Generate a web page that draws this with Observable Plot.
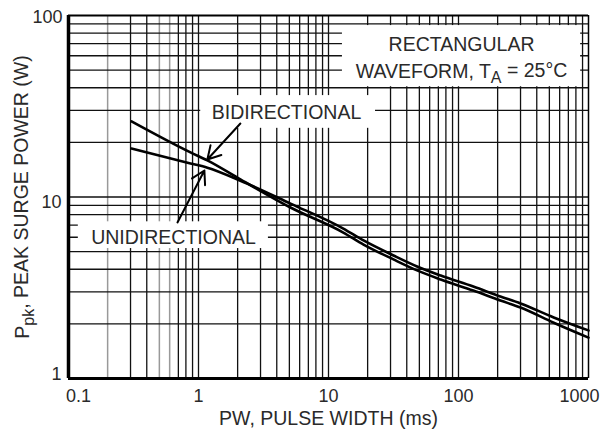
<!DOCTYPE html>
<html><head><meta charset="utf-8">
<script src="https://cdn.jsdelivr.net/npm/d3@7"></script>
<script src="https://cdn.jsdelivr.net/npm/@observablehq/plot@0.6"></script>
<style>body{margin:0;background:#fff;} svg{display:block}</style>
</head><body><div id="chart"></div>
<script>
// Data (pulse width in ms, peak surge power in W)
const pulseWidthMs = [0.305, 0.868, 1.17, 2.1, 5.1, 13, 18.6, 31.6, 48, 73, 130, 210, 300, 540, 1000];
const bidirectionalW = [26.1, 17.6, 15.9, 12.5, 8.75, 6.37, 5.47, 4.53, 3.94, 3.51, 3.05, 2.69, 2.46, 2.03, 1.68];
const unidirectionalW = [18.5, 15.3, 14.5, 12.3, 9.2, 6.7, 5.76, 4.76, 4.14, 3.69, 3.21, 2.83, 2.59, 2.17, 1.84];

const xTickLabels = [0.1, 1, 10, 100, 1000];
const yTickLabels = [1, 10, 100];
const xGrid = [0.2,0.3,0.4,0.5,0.6,0.7,0.8,0.9,1,2,3,4,5,6,7,8,9,10,20,30,40,50,60,70,80,90,100,200,300,400,500,600,700,800,900];
const xGridGray = [0.2, 0.5, 0.6];
const yGrid = [2,3,4,5,6,7,8,9,10,20,30,40,50,60,70,80,90];

const labels = ["RECTANGULAR", "WAVEFORM, T_A = 25°C", "BIDIRECTIONAL", "UNIDIRECTIONAL"];
const labelX = [105.5, 105.5, 4.75, 0.642];
const labelY = [69.2, 49.1, 29.2, 5.98];
const boxX1 = [12.8, 1.04, 0.119];
const boxX2 = [870, 23, 3.45];
const boxY1 = [40.5, 23.9, 5.2];
const boxY2 = [88, 36.2, 7.3];
const arrowX1 = [2.1, 0.689];
const arrowY1 = [25.4, 7.24];
const arrowX2 = [1.17, 1.11];
const arrowY2 = [16.1, 14.0];

const series = [
  ...pulseWidthMs.map((x, i) => ({x, y: bidirectionalW[i], s: "BIDIRECTIONAL"})),
  ...pulseWidthMs.map((x, i) => ({x, y: unidirectionalW[i], s: "UNIDIRECTIONAL"}))
];
const labelData = labels.map((t, i) => ({t, x: labelX[i], y: labelY[i]}));
const boxes = boxX1.map((d, i) => ({x1: boxX1[i], x2: boxX2[i], y1: boxY1[i], y2: boxY2[i]}));
const arrows = arrowX1.map((d, i) => ({x1: arrowX1[i], y1: arrowY1[i], x2: arrowX2[i], y2: arrowY2[i]}));
const fmt = d => String(d);
const font = 19.5;

const chart = Plot.plot({
  width: 609, height: 439,
  marginLeft: 68, marginRight: 21, marginTop: 15, marginBottom: 61,
  style: {fontFamily: "'Liberation Sans', Arial, sans-serif", color: "#2a2a2a", background: "#fff"},
  x: {type: "log", domain: [0.1, 1000], axis: null},
  y: {type: "log", domain: [1, 100], axis: null},
  marks: [
    Plot.ruleX(xGrid.filter(d => !xGridGray.includes(d)), {stroke: "#111", strokeWidth: 1.3}),
    Plot.ruleX(xGridGray, {stroke: "#999", strokeWidth: 1.5}),
    Plot.ruleY(yGrid, {stroke: "#111", strokeWidth: 1.3}),
    Plot.rect(boxes, {x1: "x1", x2: "x2", y1: "y1", y2: "y2", fill: "#fff"}),
    Plot.ruleX([0.1], {stroke: "#000", strokeWidth: 3.5}),
    Plot.ruleY([1], {stroke: "#000", strokeWidth: 3}),
    Plot.ruleY([100], {stroke: "#000", strokeWidth: 2}),
    Plot.ruleX([1000], {stroke: "#000", strokeWidth: 1.5}),
    Plot.line(series, {x: "x", y: "y", z: "s", stroke: "#000", strokeWidth: 2.6, curve: "monotone-x"}),
    Plot.arrow(arrows, {x1: "x1", y1: "y1", x2: "x2", y2: "y2", stroke: "#000", strokeWidth: 2, headLength: 11}),
    Plot.text(labelData, {x: "x", y: "y", text: "t", fontSize: font, fill: "#2a2a2a"}),
    Plot.axisX(xTickLabels.slice(1, 4), {tickSize: 0, tickPadding: 11, fontSize: 18, label: null, tickFormat: fmt}),
    Plot.axisX([xTickLabels[0]], {tickSize: 0, tickPadding: 11, fontSize: 18, label: null, tickFormat: fmt, dx: 10}),
    Plot.axisX([xTickLabels[4]], {tickSize: 0, tickPadding: 11, fontSize: 18, label: null, tickFormat: fmt, dx: -9}),
    Plot.axisY([yTickLabels[2]], {tickSize: 0, tickPadding: 6, fontSize: 18, label: null, tickFormat: fmt, dy: 2}),
    Plot.axisY([yTickLabels[1]], {tickSize: 0, tickPadding: 7, fontSize: 18, label: null, tickFormat: fmt, dy: 5}),
    Plot.axisY([yTickLabels[0]], {tickSize: 0, tickPadding: 7, fontSize: 18, label: null, tickFormat: fmt, dy: -4}),
    Plot.text(["PW, PULSE WIDTH (ms)"], {frameAnchor: "bottom", lineAnchor: "middle", textAnchor: "middle", dy: 40, fontSize: font, fill: "#2a2a2a"}),
    Plot.text(["P_pk, PEAK SURGE POWER (W)"], {frameAnchor: "left", lineAnchor: "middle", textAnchor: "middle", dx: -46, rotate: -90, fontSize: font, fill: "#2a2a2a"})
  ]
});
document.getElementById("chart").appendChild(chart);

// subscripts
d3.select(chart).selectAll("text").each(function() {
  const el = d3.select(this);
  const t = this.textContent;
  if (t === "WAVEFORM, T_A = 25°C") {
    el.text(null);
    el.append("tspan").text("WAVEFORM, T");
    el.append("tspan").attr("dy", "0.3em").attr("font-size", "0.82em").text("A");
    el.append("tspan").attr("dy", "-0.3em").text(" = 25°C");
  } else if (t === "P_pk, PEAK SURGE POWER (W)") {
    el.text(null);
    el.append("tspan").text("P");
    el.append("tspan").attr("dy", "0.3em").attr("font-size", "0.82em").text("pk");
    el.append("tspan").attr("dy", "-0.3em").text(", PEAK SURGE POWER (W)");
  }
});
</script>
</body></html>
